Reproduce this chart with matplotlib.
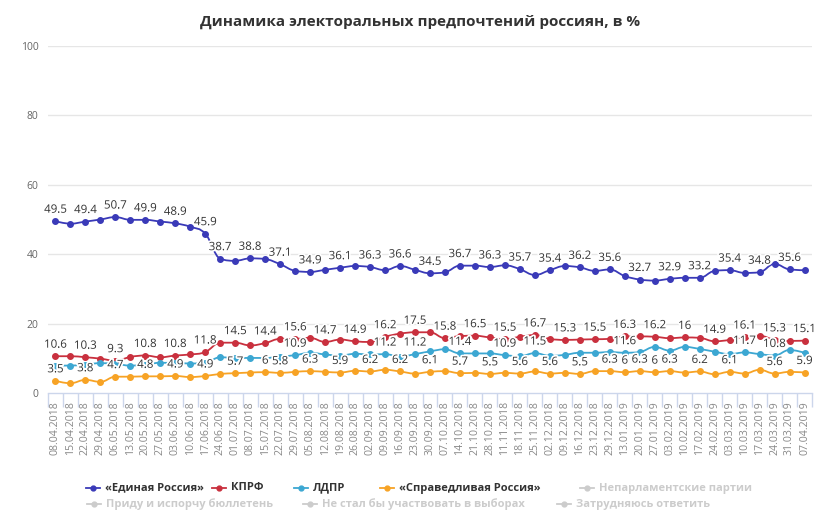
import matplotlib
matplotlib.use('Agg')
import matplotlib.pyplot as plt
from matplotlib.path import Path
from matplotlib.patches import PathPatch
from matplotlib.lines import Line2D
import matplotlib.patheffects as pe

plt.rcParams['font.family'] = ['Open Sans', 'DejaVu Sans']

title = 'Динамика электоральных предпочтений россиян, в %'

dates = ['08.04.2018', '15.04.2018', '22.04.2018', '29.04.2018', '06.05.2018', '13.05.2018',
         '20.05.2018', '27.05.2018', '03.06.2018', '10.06.2018', '17.06.2018', '24.06.2018',
         '01.07.2018', '08.07.2018', '15.07.2018', '22.07.2018', '29.07.2018', '05.08.2018',
         '12.08.2018', '19.08.2018', '26.08.2018', '02.09.2018', '09.09.2018', '16.09.2018',
         '23.09.2018', '30.09.2018', '07.10.2018', '14.10.2018', '21.10.2018', '28.10.2018',
         '11.11.2018', '18.11.2018', '25.11.2018', '02.12.2018', '09.12.2018', '16.12.2018',
         '23.12.2018', '29.12.2018', '13.01.2019', '20.01.2019', '27.01.2019', '03.02.2019',
         '10.02.2019', '17.02.2019', '24.02.2019', '03.03.2019', '10.03.2019', '17.03.2019',
         '24.03.2019', '31.03.2019', '07.04.2019']

er = [49.5, 48.8, 49.4, 50.0, 50.7, 49.9, 49.9, 49.4, 48.9, 47.9, 45.9, 38.7, 38.1, 38.8,
      38.6, 37.1, 35.2, 34.9, 35.5, 36.1, 36.6, 36.3, 35.4, 36.6, 35.5, 34.5, 34.8, 36.7,
      36.7, 36.3, 36.8, 35.7, 34.0, 35.4, 36.6, 36.2, 35.2, 35.6, 33.7, 32.7, 32.4, 32.9,
      33.2, 33.2, 35.2, 35.4, 34.6, 34.8, 37.2, 35.6, 35.4]
kprf = [10.6, 10.6, 10.3, 9.9, 9.3, 10.4, 10.8, 10.3, 10.8, 11.1, 11.8, 14.5, 14.5, 13.7,
        14.4, 15.6, 15.6, 15.9, 14.7, 15.4, 14.9, 14.7, 16.2, 17.1, 17.5, 17.5, 15.8, 16.4,
        16.5, 16.0, 15.5, 16.2, 16.7, 15.6, 15.3, 15.4, 15.5, 15.6, 16.3, 16.3, 16.2, 15.8,
        16.0, 15.9, 14.9, 15.3, 16.1, 16.5, 15.3, 15.0, 15.1]
ldpr = [7.9, 7.9, 8.2, 8.6, 8.4, 7.9, 8.2, 8.7, 8.7, 8.5, 8.7, 10.3, 10.1, 10.1,
        10.1, 10.5, 10.9, 11.6, 11.1, 10.8, 11.3, 11.1, 11.2, 10.5, 11.2, 12.0, 12.6, 11.4,
        11.4, 11.4, 10.9, 10.6, 11.5, 10.7, 11.0, 11.6, 11.6, 11.8, 11.6, 11.8, 13.3, 12.2,
        13.3, 12.7, 11.9, 11.2, 11.7, 11.2, 10.8, 12.4, 11.6]
sr = [3.5, 2.8, 3.8, 3.2, 4.7, 4.7, 4.8, 4.8, 4.9, 4.6, 4.9, 5.5, 5.7, 5.9,
      6.0, 5.8, 6.1, 6.3, 6.1, 5.9, 6.4, 6.2, 6.7, 6.2, 5.6, 6.1, 6.3, 5.7,
      5.8, 5.5, 5.8, 5.6, 6.2, 5.6, 5.8, 5.5, 6.3, 6.3, 6.0, 6.3, 6.0, 6.3,
      5.9, 6.2, 5.4, 6.1, 5.6, 6.7, 5.6, 6.1, 5.9]

# indices whose data labels are visible in the original chart
er_labeled = [0, 2, 4, 6, 8, 10, 11, 13, 15, 17, 19, 21, 23, 25, 27, 29, 31, 33, 35, 37,
              39, 41, 43, 45, 47, 49]
kprf_labeled = list(range(0, 51, 2))
ldpr_labeled = [16, 22, 24, 27, 30, 32, 38, 46, 48]
sr_labeled = [0, 2, 4, 6, 8, 10, 12, 14, 15, 17, 19, 21, 23, 25, 27, 29, 31, 33, 35, 37,
              38, 39, 40, 41, 43, 45, 48, 50]

series_names = ['«Единая Россия»', 'КПРФ', 'ЛДПР', '«Справедливая Россия»']
series_values = [er, kprf, ldpr, sr]
series_labeled = [er_labeled, kprf_labeled, ldpr_labeled, sr_labeled]
colors = ['#3a3ab8', '#c9303e', '#3ca7d2', '#f7a325']
hidden_row1 = ['Непарламентские партии']
hidden_row2 = ['Приду и испорчу бюллетень', 'Не стал бы участвовать в выборах',
               'Затрудняюсь ответить']
y_ticks = [0, 20, 40, 60, 80, 100]


def spline_path(xs, ys):
    n = len(xs)
    lc = [(xs[i], ys[i]) for i in range(n)]
    rc = [(xs[i], ys[i]) for i in range(n)]
    s, d = 1.5, 2.5
    for i in range(1, n - 1):
        px, py = xs[i], ys[i]
        lx, ly = xs[i - 1], ys[i - 1]
        nx, ny = xs[i + 1], ys[i + 1]
        lcx = (s * px + lx) / d
        lcy = (s * py + ly) / d
        rcx = (s * px + nx) / d
        rcy = (s * py + ny) / d
        if rcx != lcx:
            corr = ((rcy - lcy) * (rcx - px)) / (rcx - lcx) + py - rcy
            lcy += corr
            rcy += corr
        if lcy > max(ly, py):
            lcy = max(ly, py)
            rcy = 2 * py - lcy
        elif lcy < min(ly, py):
            lcy = min(ly, py)
            rcy = 2 * py - lcy
        if rcy > max(py, ny):
            rcy = max(py, ny)
            lcy = 2 * py - rcy
        elif rcy < min(py, ny):
            rcy = min(py, ny)
            lcy = 2 * py - rcy
        lc[i] = (lcx, lcy)
        rc[i] = (rcx, rcy)
    verts = [(xs[0], ys[0])]
    codes = [Path.MOVETO]
    for i in range(1, n):
        verts += [rc[i - 1], lc[i], (xs[i], ys[i])]
        codes += [Path.CURVE4] * 3
    return Path(verts, codes)


W, H = 840, 520
fig = plt.figure(figsize=(W / 100, H / 100), dpi=100)
left, right, top, bottom = 48, 812, 46, 393
ax = fig.add_axes([left / W, 1 - bottom / H, (right - left) / W, (bottom - top) / H])

xs = list(range(len(dates)))
ax.set_xlim(-0.5, len(dates) - 0.5)
ax.set_ylim(0, 100)

for yt in y_ticks[1:]:
    ax.axhline(yt, color='#e6e6e6', lw=1, zorder=0)

outline = [pe.withStroke(linewidth=2.5, foreground='white')]
for vals, labeled, col in zip(series_values, series_labeled, colors):
    ax.add_patch(PathPatch(spline_path(xs, vals), fill=False, edgecolor=col, lw=1.3, zorder=2))
    ax.plot(xs, vals, 'o', ms=4, color=col, zorder=3)
    for i in labeled:
        v = vals[i]
        txt = ('%g' % v)
        ax.annotate(txt, (xs[i], v), xytext=(0, 4), textcoords='offset points',
                    ha='center', va='bottom', fontsize=8.3, color='#333333',
                    path_effects=outline, zorder=4)

for side in ['top', 'right', 'left']:
    ax.spines[side].set_visible(False)
ax.spines['bottom'].set_color('#ccd6eb')
ax.spines['bottom'].set_linewidth(1)

ax.set_yticks(y_ticks)
ax.set_yticklabels([str(t) for t in y_ticks])
ax.tick_params(axis='y', length=0, labelsize=7.5, labelcolor='#666666', pad=7)

ax.set_xticks([x + 0.5 for x in xs[:-1]] + [-0.5, len(dates) - 0.5])
ax.set_xticklabels([])
ax.tick_params(axis='x', which='major', length=10, color='#ccd6eb', width=1)
ax.set_xticks(xs, minor=True)
ax.set_xticklabels(dates, minor=True, rotation=90, fontsize=7.6, color='#888888')
ax.tick_params(axis='x', which='minor', length=0, pad=6)

fig.text(420 / W, 1 - 22 / H, title, ha='center', va='center', fontsize=11,
         fontweight='bold', color='#333333')

# legend
def legend_item(x_sym, y_px, label, color, tcolor):
    y = 1 - y_px / H
    fig.add_artist(Line2D([x_sym / W, (x_sym + 14) / W], [y, y], color=color, lw=1.3,
                          transform=fig.transFigure))
    fig.add_artist(Line2D([(x_sym + 7) / W], [y], marker='o', ms=3.5, color=color,
                          transform=fig.transFigure))
    fig.text((x_sym + 19) / W, y, label, ha='left', va='center', fontsize=8,
             fontweight='bold', color=tcolor)

row1_x = [86, 212, 294, 380, 580]
row1_labels = series_names + hidden_row1
row1_colors = colors + ['#cccccc']
for xp, lab, c in zip(row1_x, row1_labels, row1_colors):
    legend_item(xp, 488, lab, c, '#333333' if c != '#cccccc' else '#cccccc')

row2_x = [87, 303, 557]
for xp, lab in zip(row2_x, hidden_row2):
    legend_item(xp, 504, lab, '#cccccc', '#cccccc')

fig.savefig('out.png', dpi=100, facecolor='white')
